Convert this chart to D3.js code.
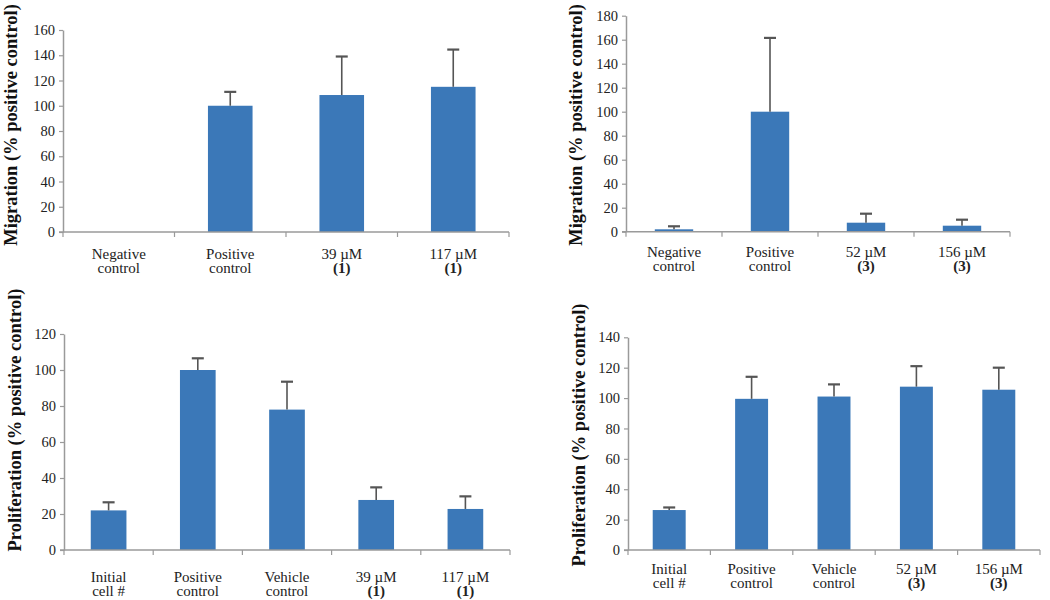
<!DOCTYPE html>
<html>
<head>
<meta charset="utf-8">
<script src="https://cdn.jsdelivr.net/npm/d3@7"></script>
<style>
  html, body { margin: 0; padding: 0; background: #fff; }
  svg { display: block; }
  svg text { font-family: 'Liberation Serif', 'Times New Roman', serif; }
</style>
</head>
<body>
<svg id="chart" width="1050" height="600"></svg>
<script>
// ---- Data ----
const migration1Categories = ["Negative\ncontrol", "Positive\ncontrol", "39 µM\n(1)", "117 µM\n(1)"];
const migration1Values = [0, 100, 108.5, 115];
const migration1Errors = [0, 11, 30.5, 29.5];
const migration1Ticks = [0, 20, 40, 60, 80, 100, 120, 140, 160];

const migration3Categories = ["Negative\ncontrol", "Positive\ncontrol", "52 µM\n(3)", "156 µM\n(3)"];
const migration3Values = [2, 100, 7.5, 5];
const migration3Errors = [2.5, 61.5, 7.5, 5];
const migration3Ticks = [0, 20, 40, 60, 80, 100, 120, 140, 160, 180];

const prolif1Categories = ["Initial\ncell #", "Positive\ncontrol", "Vehicle\ncontrol", "39 µM\n(1)", "117 µM\n(1)"];
const prolif1Values = [22, 100, 78, 27.8, 22.8];
const prolif1Errors = [4.5, 6.5, 15.5, 7, 7];
const prolif1Ticks = [0, 20, 40, 60, 80, 100, 120];

const prolif3Categories = ["Initial\ncell #", "Positive\ncontrol", "Vehicle\ncontrol", "52 µM\n(3)", "156 µM\n(3)"];
const prolif3Values = [26.3, 99.5, 101, 107.5, 105.5];
const prolif3Errors = [1.7, 14.5, 8, 13.5, 14.5];
const prolif3Ticks = [0, 20, 40, 60, 80, 100, 120, 140];

const migrationLabel = "Migration (% positive control)";
const proliferationLabel = "Proliferation (% positive control)";

// ---- Drawing ----
const svg = d3.select("#chart");
const BAR = "#3b78b8";
const AXIS = "#9a9a9a";
const ERR = "#555555";
const TXT = "#222222";
const FONT = "'Liberation Serif', 'Times New Roman', serif";

function panel(cfg) {
  const { cats, vals, errs, ticks, x0, x1, yTop, yBottom, yMax, label, labelX, labelY, catY } = cfg;
  const g = svg.append("g");
  const x = d3.scaleBand().domain(cats).range([x0, x1]).paddingInner(0.6).paddingOuter(0.3);
  const y = d3.scaleLinear().domain([0, yMax]).range([yBottom, yTop]);
  const step = x.step();

  // bars
  g.selectAll("rect.bar").data(cats).join("rect")
    .attr("class", "bar")
    .attr("x", d => x(d))
    .attr("width", x.bandwidth())
    .attr("y", (d, i) => y(vals[i]))
    .attr("height", (d, i) => y(0) - y(vals[i]))
    .attr("fill", BAR);

  // error bars
  const eg = g.append("g").attr("stroke", ERR).attr("stroke-width", 1.6);
  cats.forEach((c, i) => {
    if (!errs[i]) return;
    const cx = x(c) + x.bandwidth() / 2;
    const top = y(vals[i] + errs[i]);
    eg.append("line").attr("x1", cx).attr("x2", cx).attr("y1", y(vals[i])).attr("y2", top);
    eg.append("line").attr("x1", cx - 6).attr("x2", cx + 6).attr("y1", top).attr("y2", top).attr("stroke-width", 2.2);
  });

  // y axis
  const ya = g.append("g").attr("transform", `translate(${x0},0)`)
    .call(d3.axisLeft(y).tickValues(ticks).tickSize(4).tickSizeOuter(0).tickPadding(4));
  ya.attr("font-family", FONT);
  ya.select(".domain").attr("stroke", AXIS).attr("stroke-width", 1.5);
  ya.selectAll(".tick line").attr("stroke", AXIS).attr("stroke-width", 1.2);
  ya.selectAll(".tick text").style("font-family", FONT).attr("font-size", 14.5).attr("fill", TXT);

  // x axis (line + boundary ticks)
  const xa = g.append("g").attr("transform", `translate(0,${yBottom})`)
    .call(d3.axisBottom(x).tickSize(0).tickFormat(""));
  xa.select(".domain").attr("stroke", AXIS).attr("stroke-width", 1.5).attr("d", `M${x0 - 4},0H${x1}`);
  const bounds = cats.map(c => x(c) - step * 0.3).concat([x1]);
  xa.selectAll("line.bound").data(bounds).join("line")
    .attr("class", "bound")
    .attr("x1", d => d).attr("x2", d => d).attr("y1", 0).attr("y2", 5)
    .attr("stroke", AXIS).attr("stroke-width", 1.2);

  // category labels
  cats.forEach(c => {
    const lines = c.split("\n");
    const t = g.append("text")
      .attr("x", x(c) + x.bandwidth() / 2)
      .attr("y", catY)
      .attr("text-anchor", "middle")
      .attr("font-size", 15).attr("fill", TXT);
    lines.forEach((ln, k) => {
      t.append("tspan")
        .attr("x", x(c) + x.bandwidth() / 2)
        .attr("dy", k === 0 ? 0 : 14)
        .attr("font-weight", ln.startsWith("(") ? "bold" : "normal")
        .text(ln);
    });
  });

  // y label
  g.append("text")
    .attr("transform", `translate(${labelX},${labelY}) rotate(-90)`)
    .attr("text-anchor", "middle")
    .attr("font-weight", "bold").attr("font-size", 18.5)
    .attr("fill", "#111")
    .text(label);
}

panel({ cats: migration1Categories, vals: migration1Values, errs: migration1Errors, ticks: migration1Ticks,
  x0: 63, x1: 509, yTop: 30, yBottom: 232, yMax: 160,
  label: migrationLabel, labelX: 17, labelY: 125, catY: 259 });

panel({ cats: migration3Categories, vals: migration3Values, errs: migration3Errors, ticks: migration3Ticks,
  x0: 626, x1: 1010, yTop: 15.7, yBottom: 231.7, yMax: 180,
  label: migrationLabel, labelX: 582, labelY: 125, catY: 257 });

panel({ cats: prolif1Categories, vals: prolif1Values, errs: prolif1Errors, ticks: prolif1Ticks,
  x0: 64, x1: 510, yTop: 334, yBottom: 550, yMax: 120,
  label: proliferationLabel, labelX: 21, labelY: 420, catY: 582 });

panel({ cats: prolif3Categories, vals: prolif3Values, errs: prolif3Errors, ticks: prolif3Ticks,
  x0: 628, x1: 1040, yTop: 337.3, yBottom: 550, yMax: 140,
  label: proliferationLabel, labelX: 585, labelY: 435, catY: 574 });
</script>
</body>
</html>
